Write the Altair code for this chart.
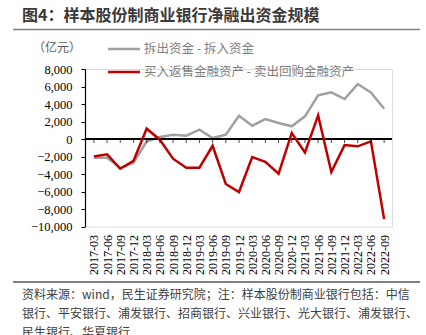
import altair as alt
import pandas as pd

dates = ["2017-03", "2017-06", "2017-09", "2017-12", "2018-03", "2018-06", "2018-09", "2018-12",
         "2019-03", "2019-06", "2019-09", "2019-12", "2020-03", "2020-06", "2020-09", "2020-12",
         "2021-03", "2021-06", "2021-09", "2021-12", "2022-03", "2022-06", "2022-09"]
lend_net = [-2150, -2150, -3300, -2700, -300, 230, 490, 380, 1060, 110, 490, 2660, 1520, 2280,
            1830, 1450, 2590, 4990, 5330, 4570, 6280, 5330, 3460]
repo_net = [-2000, -1750, -3400, -2500, 1180, -80, -2250, -3280, -3280, -770, -5140, -6060, -2060,
            -2600, -3970, 690, -1530, 2700, -3780, -700, -840, -270, -9140]
y_ticks = [-10000, -8000, -6000, -4000, -2000, 0, 2000, 4000, 6000, 8000]

title_text = "图4：样本股份制商业银行净融出资金规模"
unit_text = "（亿元）"
legend_gray = "拆出资金 - 拆入资金"
legend_red = "买入返售金融资产 - 卖出回购金融资产"
foot_lines = ["资料来源：wind，民生证券研究院；注：样本股份制商业银行包括：中信",
              "银行、平安银行、浦发银行、招商银行、兴业银行、光大银行、浦发银行、",
              "民生银行、华夏银行"]

L, T = 85, 69
W, H = 307, 157.5
SERIF = "'Liberation Serif', 'DejaVu Serif', serif"

df = pd.DataFrame({"date": dates, "gray": lend_net, "red": repo_net})

xscale = alt.Scale(type="point", domain=dates, range=[2.3, W - 1.3])
yscale = alt.Scale(domain=[-10000, 8000], nice=False)

xaxis = alt.Axis(title=None, labelAngle=-90, labelFont=SERIF, labelFontSize=12,
                 labelColor="#000000", domain=False, ticks=False, labelPadding=8,
                 labelOverlap=False)
yaxis = alt.Axis(title=None, values=y_ticks, format=",.0f", labelFont=SERIF,
                 labelFontSize=12.5, labelColor="#000000", domainColor="#000000", tickColor="#000000",
                 tickSize=4, labelPadding=9, grid=False, domainWidth=1.2, labelOverlap=False)

base = alt.Chart(df)
gray_line = base.mark_line(color="#A0A0A0", strokeWidth=2.5).encode(
    x=alt.X("date:O", scale=xscale, axis=xaxis), y=alt.Y("gray:Q", scale=yscale, axis=yaxis))
red_line = base.mark_line(color="#C00000", strokeWidth=2.5).encode(
    x=alt.X("date:O", scale=xscale, axis=xaxis), y=alt.Y("red:Q", scale=yscale, axis=yaxis))
zero_rule = base.mark_rule(color="#000000", strokeWidth=1.2).encode(
    y=alt.YDatum(0, scale=yscale, axis=yaxis))
zero_ticks = base.mark_tick(color="#000000", thickness=1, size=4, orient="vertical", yOffset=2).encode(
    x=alt.X("date:O", scale=xscale, axis=xaxis), y=alt.YDatum(0, scale=yscale, axis=yaxis))

one = pd.DataFrame({"a": [0]})


def txt(s, x, y, size=12, color="#404040", weight="normal", font="Noto Sans CJK SC"):
    return alt.Chart(one).mark_text(text=s, align="left", baseline="middle", fontSize=size,
                                    color=color, fontWeight=weight, font=font).encode(
        x=alt.value(x - L), y=alt.value(y - T))


def hline(x1, x2, y, color, width):
    return alt.Chart(one).mark_rule(color=color, strokeWidth=width).encode(
        x=alt.value(x1 - L), x2=alt.value(x2 - L), y=alt.value(y - T))


layers = [
    gray_line, zero_rule, red_line, zero_ticks,
    txt(title_text, 22, 16, size=16, color="#3a3a3a", weight="bold"),
    hline(13, 420, 29.5, "#808080", 1.5),
    txt(unit_text, 33, 48, size=12, color="#595959"),
    hline(108, 140, 49, "#A0A0A0", 2.5),
    txt(legend_gray, 144, 49, size=12.5, color="#808080"),
    hline(108, 140, 72, "#C00000", 2.5),
    txt(legend_red, 144, 72, size=12.5, color="#808080"),
    hline(13, 420, 282, "#808080", 2),
    txt(foot_lines[0], 22, 295, size=12, color="#404040"),
    txt(foot_lines[1], 22, 314, size=12, color="#404040"),
    txt(foot_lines[2], 22, 333, size=12, color="#404040"),
]

chart = alt.layer(*layers).properties(
    width=W, height=H,
    autosize=alt.AutoSizeParams(type="none"),
    padding={"left": L, "top": T, "right": 426 - L - W, "bottom": 335 - T - H},
).configure_view(stroke=None).configure(background="#ffffff")

chart.save("out.html", embed_options={"renderer": "svg", "actions": False})
